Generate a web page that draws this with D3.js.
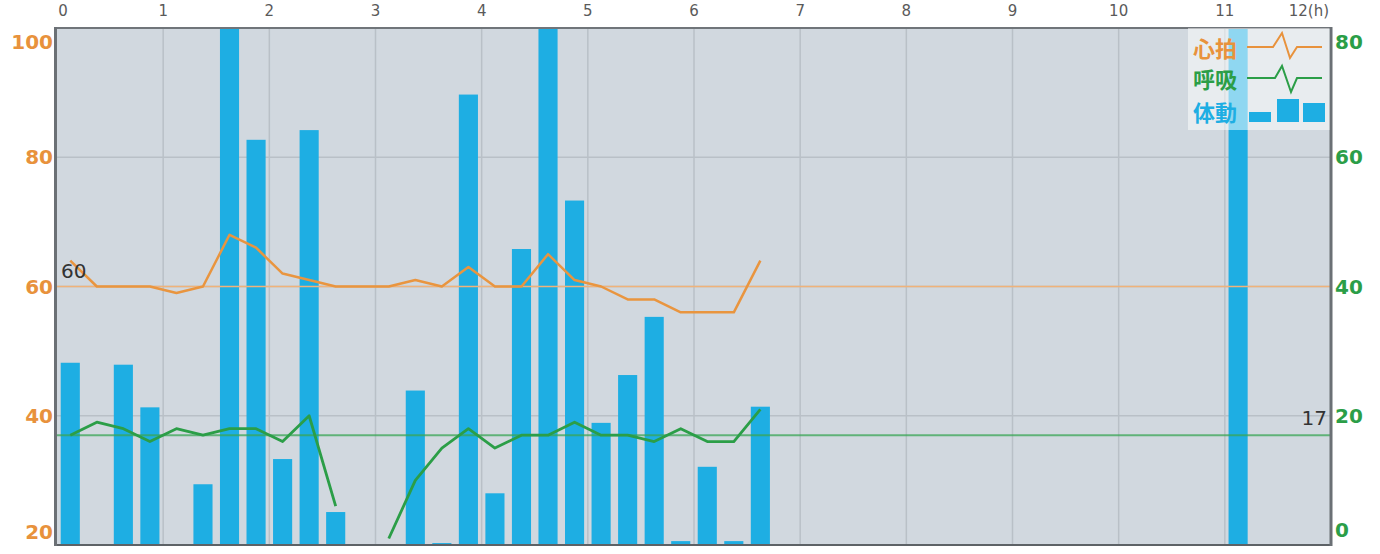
<!DOCTYPE html>
<html>
<head>
<meta charset="utf-8">
<script src="https://cdn.jsdelivr.net/npm/d3@7"></script>
<style>
  body { margin: 0; background: #fff; }
</style>
</head>
<body>
<script>
// Slot times (hours, 15 min bins, centre of slot)
var slotTimes = [0.125, 0.375, 0.625, 0.875, 1.125, 1.375, 1.625, 1.875, 2.125, 2.375, 2.625, 2.875, 3.125,
                 3.375, 3.625, 3.875, 4.125, 4.375, 4.625, 4.875, 5.125, 5.375, 5.625, 5.875, 6.125, 6.375, 6.625];

// Heart rate (left axis)
var heartRate = [64, 60, 60, 60, 59, 60, 68, 66, 62, 61, 60, 60, 60, 61, 60, 63, 60, 60, 65, 61, 60, 58, 58, 56, 56, 56, 64];

// Respiration (right axis)
var respiration = [17, 19, 18, 16, 18, 17, 18, 18, 16, 20, 6, null, 1, 10, 15, 18, 15, 17, 17, 19, 17, 17, 16, 18, 16, 16, 21];

// Body movement
var moveTimes  = [0.125, 0.625, 0.875, 1.375, 1.625, 1.875, 2.125, 2.375, 2.625, 3.375, 3.625, 3.875,
                  4.125, 4.375, 4.625, 4.875, 5.125, 5.375, 5.625, 5.875, 6.125, 6.375, 6.625, 11.125];
var moveValues = [28.2, 27.9, 21.3, 9.4, 90, 62.7, 13.3, 64.2, 5.1, 23.9, 0.3, 69.7,
                  8.0, 45.8, 90, 53.3, 18.9, 26.3, 35.3, 0.6, 12.1, 0.6, 21.4, 90];

// Ticks and reference values
var hourTicks  = [0, 1, 2, 3, 4, 5, 6, 7, 8, 9, 10, 11, 12];
var leftTicks  = [20, 40, 60, 80, 100];
var rightTicks = [0, 20, 40, 60, 80];
var heartRef = 60,
    respRef  = 17;

// Legend
var legendLabels = ['心拍', '呼吸', '体動'];

var W = 1380, H = 554,
    plot = { left: 57, right: 1331, top: 28, bottom: 545 },
    orange = '#e8923c',
    green  = '#2b9e47',
    blue   = '#1eaee3';

var xScale = d3.scaleLinear().domain([0, 12]).range([plot.left, plot.right]);
var yLeft  = d3.scaleLinear().domain([20, 100]).range([plot.bottom, plot.top]);
var yRight = d3.scaleLinear().domain([0, 80]).range([plot.bottom, plot.top]);

var svg = d3.select('body').append('svg')
    .attr('width', W)
    .attr('height', H)
    .style('font-family', '"DejaVu Sans", Verdana, sans-serif');

svg.append('clipPath').attr('id', 'clip')
    .append('rect')
    .attr('x', plot.left).attr('y', plot.top)
    .attr('width', plot.right - plot.left).attr('height', plot.bottom - plot.top);

// Plot background
svg.append('rect')
    .attr('x', plot.left).attr('y', plot.top)
    .attr('width', plot.right - plot.left).attr('height', plot.bottom - plot.top)
    .attr('fill', '#d1d8df');

// Grid
svg.append('g')
    .selectAll('line')
    .data(hourTicks.slice(1, -1))
    .enter().append('line')
    .attr('x1', function(d) { return xScale(d); })
    .attr('x2', function(d) { return xScale(d); })
    .attr('y1', plot.top).attr('y2', plot.bottom)
    .attr('stroke', '#b9c0c7')
    .attr('stroke-width', 1.5);

svg.append('g')
    .selectAll('line')
    .data([40, 60, 80])
    .enter().append('line')
    .attr('x1', plot.left).attr('x2', plot.right)
    .attr('y1', function(d) { return yLeft(d); })
    .attr('y2', function(d) { return yLeft(d); })
    .attr('stroke', '#b9c0c7')
    .attr('stroke-width', 1.5);

var inner = svg.append('g').attr('clip-path', 'url(#clip)');

// Movement bars
var barW = xScale(0.18) - xScale(0);
inner.selectAll('.bar')
    .data(moveTimes)
    .enter().append('rect')
    .attr('class', 'bar')
    .attr('x', function(d) { return xScale(d) - barW / 2; })
    .attr('width', barW)
    .attr('y', function(d, i) { return yRight(moveValues[i]); })
    .attr('height', function(d, i) { return plot.bottom - yRight(moveValues[i]); })
    .attr('fill', blue);

// Reference lines
inner.append('line')
    .attr('x1', plot.left).attr('x2', plot.right)
    .attr('y1', yLeft(heartRef)).attr('y2', yLeft(heartRef))
    .attr('stroke', '#f0b27a')
    .attr('stroke-width', 1.3);

inner.append('line')
    .attr('x1', plot.left).attr('x2', plot.right)
    .attr('y1', yRight(respRef)).attr('y2', yRight(respRef))
    .attr('stroke', '#3aa655')
    .attr('stroke-opacity', 0.75)
    .attr('stroke-width', 2);

// Heart line
var heartLine = d3.line()
    .x(function(d, i) { return xScale(slotTimes[i]); })
    .y(function(d) { return yLeft(d); });

inner.append('path')
    .datum(heartRate)
    .attr('d', heartLine)
    .attr('fill', 'none')
    .attr('stroke', '#e9953f')
    .attr('stroke-width', 2.5)
    .attr('stroke-linejoin', 'round');

// Respiration line
var respLine = d3.line()
    .defined(function(d) { return d != null; })
    .x(function(d, i) { return xScale(slotTimes[i]); })
    .y(function(d) { return yRight(d); });

inner.append('path')
    .datum(respiration)
    .attr('d', respLine)
    .attr('fill', 'none')
    .attr('stroke', green)
    .attr('stroke-width', 2.8)
    .attr('stroke-linejoin', 'round');

// Reference labels
svg.append('text')
    .attr('x', plot.left + 4).attr('y', yLeft(heartRef) - 16)
    .attr('dominant-baseline', 'central')
    .attr('font-size', 20).attr('fill', '#333')
    .text(heartRef);

svg.append('text')
    .attr('x', plot.right - 4).attr('y', yRight(respRef) - 17)
    .attr('text-anchor', 'end')
    .attr('dominant-baseline', 'central')
    .attr('font-size', 20).attr('fill', '#333')
    .text(respRef);

// Frame
svg.append('line')
    .attr('x1', plot.left).attr('x2', plot.right)
    .attr('y1', plot.top).attr('y2', plot.top)
    .attr('stroke', '#70757a').attr('stroke-width', 2);
svg.append('line')
    .attr('x1', plot.left).attr('x2', plot.right)
    .attr('y1', plot.bottom).attr('y2', plot.bottom)
    .attr('stroke', '#5d6266').attr('stroke-width', 2);
svg.append('line')
    .attr('x1', plot.left - 1.5).attr('x2', plot.left - 1.5)
    .attr('y1', plot.top - 1).attr('y2', plot.bottom + 1)
    .attr('stroke', '#6b7075').attr('stroke-width', 3);
svg.append('line')
    .attr('x1', plot.right).attr('x2', plot.right)
    .attr('y1', plot.top - 1).attr('y2', plot.bottom + 1)
    .attr('stroke', '#6b7075').attr('stroke-width', 3);

// Top hour labels
svg.append('g')
    .selectAll('text')
    .data(hourTicks)
    .enter().append('text')
    .attr('x', function(d) { return d == 12 ? xScale(d) - 2 : xScale(d) + (d == 0 ? 6 : 0); })
    .attr('y', 16)
    .attr('text-anchor', function(d) { return d == 12 ? 'end' : 'middle'; })
    .attr('font-size', 15)
    .attr('fill', '#5a5a5a')
    .text(function(d) { return d == 12 ? '12(h)' : d; });

// Left axis labels
svg.append('g')
    .selectAll('text')
    .data(leftTicks)
    .enter().append('text')
    .attr('x', plot.left - 4)
    .attr('y', function(d) { return Math.min(Math.max(yLeft(d), plot.top + 14), plot.bottom - 13); })
    .attr('text-anchor', 'end')
    .attr('dominant-baseline', 'central')
    .attr('font-size', 20).attr('font-weight', 'bold')
    .attr('fill', orange)
    .text(function(d) { return d; });

// Right axis labels
svg.append('g')
    .selectAll('text')
    .data(rightTicks)
    .enter().append('text')
    .attr('x', plot.right + 4)
    .attr('y', function(d) { return Math.min(Math.max(yRight(d), plot.top + 14), plot.bottom - 15); })
    .attr('dominant-baseline', 'central')
    .attr('font-size', 20).attr('font-weight', 'bold')
    .attr('fill', green)
    .text(function(d) { return d; });

// Legend
var legend = svg.append('g');
legend.append('rect')
    .attr('x', 1188).attr('y', plot.top)
    .attr('width', plot.right - 1.5 - 1188).attr('height', 102)
    .attr('fill', '#fff').attr('fill-opacity', 0.5);

var legendColors = [orange, green, blue],
    legendY = [47, 78, 111];

legend.selectAll('.lt')
    .data(legendLabels)
    .enter().append('text')
    .attr('class', 'lt')
    .attr('x', 1193)
    .attr('y', function(d, i) { return legendY[i]; })
    .attr('dominant-baseline', 'central')
    .attr('font-family', '"Noto Sans CJK JP", sans-serif')
    .attr('font-size', 22).attr('font-weight', 'bold')
    .attr('fill', function(d, i) { return legendColors[i]; })
    .text(function(d) { return d; });

// Legend line icons
legend.append('path')
    .attr('d', 'M1247,47 L1273,47 L1282,33 L1290,58 L1297,47 L1322,47')
    .attr('fill', 'none').attr('stroke', orange).attr('stroke-width', 2);
legend.append('path')
    .attr('d', 'M1247,78 L1275,78 L1282,66 L1291,92 L1297,78 L1322,78')
    .attr('fill', 'none').attr('stroke', green).attr('stroke-width', 2);

// Legend bar icons
legend.selectAll('.lb')
    .data([[1249, 112, 22], [1277, 99, 22], [1303, 103, 22]])
    .enter().append('rect')
    .attr('class', 'lb')
    .attr('x', function(d) { return d[0]; })
    .attr('y', function(d) { return d[1]; })
    .attr('width', function(d) { return d[2]; })
    .attr('height', function(d) { return 122 - d[1]; })
    .attr('fill', blue);
</script>
</body>
</html>
